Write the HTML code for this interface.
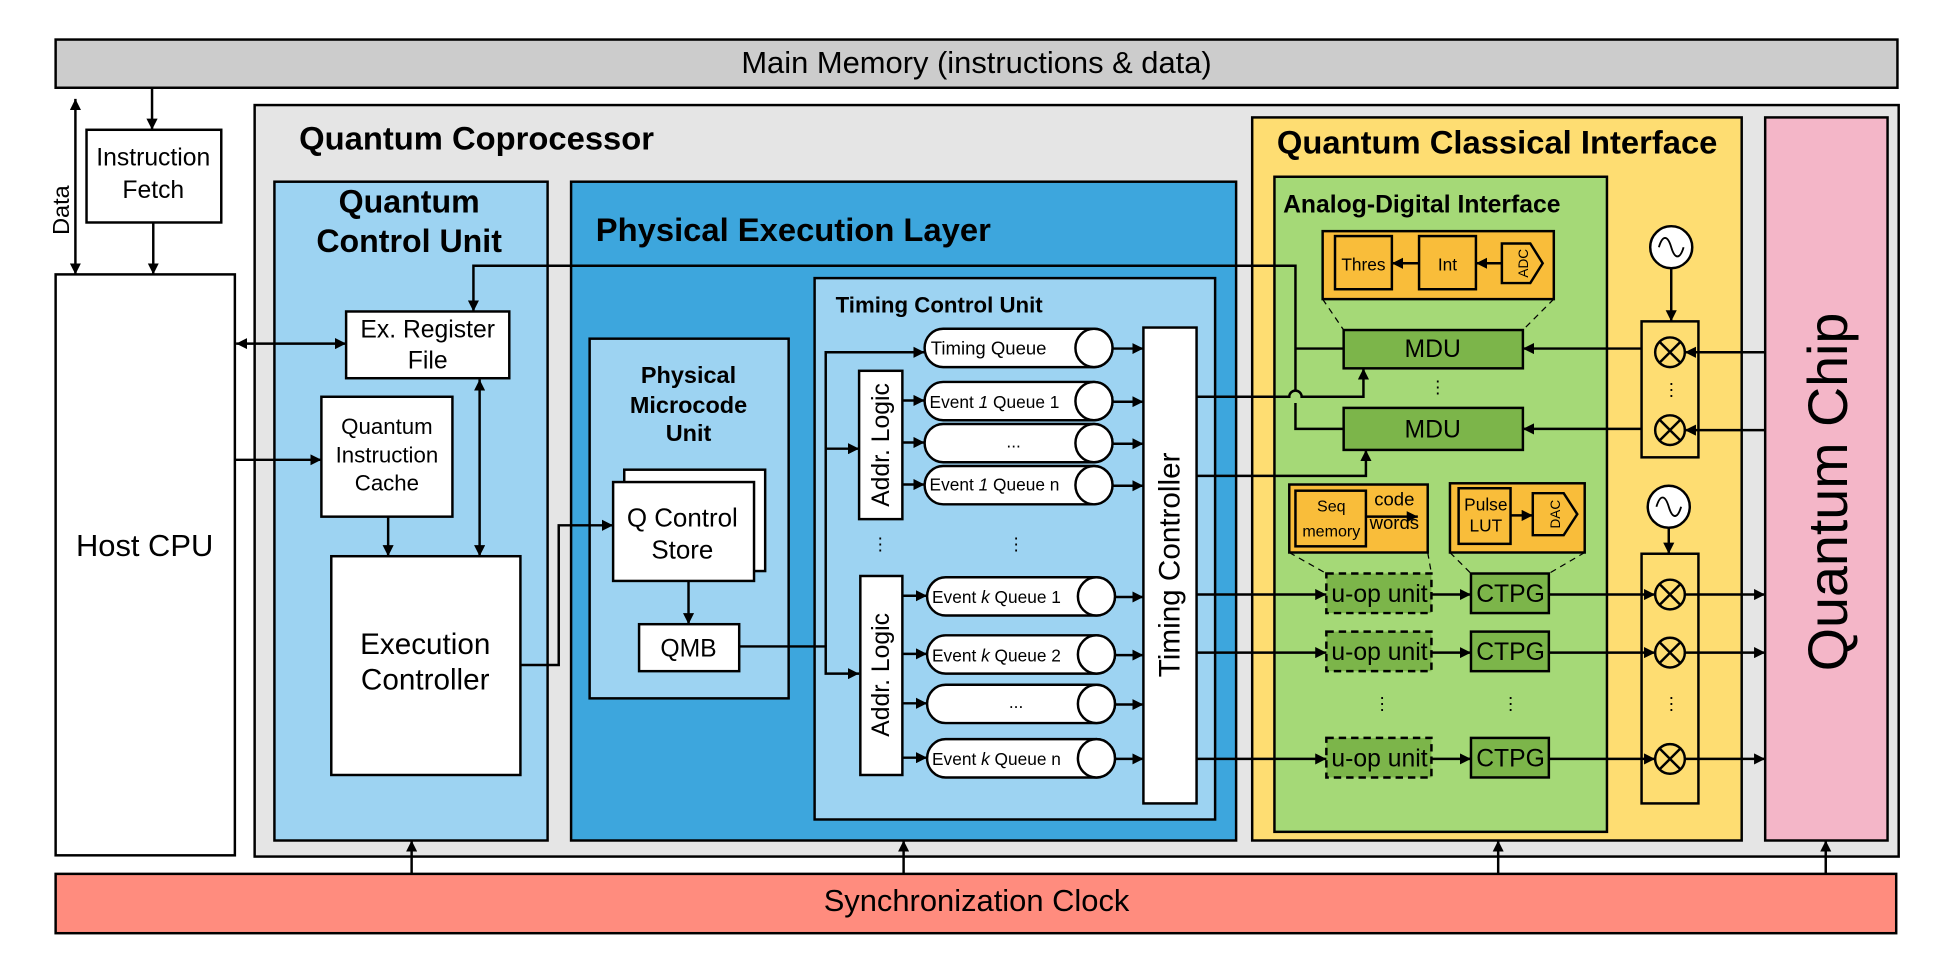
<!DOCTYPE html>
<html><head><meta charset="utf-8"><style>
html,body{margin:0;padding:0;background:#fff}
svg{display:block}
text{font-family:"Liberation Sans",Arial,sans-serif;fill:#000}
.b{font-weight:bold}
</style></head><body>
<svg width="1937" height="973" viewBox="0 0 1567 787.2" preserveAspectRatio="none" xmlns="http://www.w3.org/2000/svg">
<defs>
<marker id="a" viewBox="0 0 10 10" refX="10" refY="5" markerWidth="9" markerHeight="9" markerUnits="userSpaceOnUse" orient="auto-start-reverse"><path d="M0,0 L10,5 L0,10 z" fill="#000"/></marker>
</defs>
<g stroke="#000" stroke-width="2">
<rect x="45" y="32" width="1490" height="39" fill="#cccccc"/>
<rect x="206" y="85" width="1330" height="608" fill="#e5e5e5"/>
<rect x="70" y="105" width="109" height="75" fill="#fff"/>
<rect x="45" y="222" width="145" height="470" fill="#fff"/>
<rect x="222" y="147" width="221" height="533" fill="#9dd3f2"/>
<rect x="280" y="252" width="132" height="54" fill="#fff"/>
<rect x="260" y="321" width="106" height="97" fill="#fff"/>
<rect x="268" y="450" width="153" height="177" fill="#fff"/>
<rect x="462" y="147" width="538" height="533" fill="#3da6dd"/>
<rect x="477" y="274" width="161" height="291" fill="#9dd3f2"/>
<rect x="505" y="380" width="114" height="82" fill="#fff"/>
<rect x="496" y="390" width="114" height="80" fill="#fff"/>
<rect x="517" y="505" width="81" height="38" fill="#fff"/>
<rect x="659" y="225" width="324" height="438" fill="#9dd3f2"/>
<rect x="695" y="300" width="35" height="120" fill="#fff"/>
<rect x="696" y="466" width="34" height="161" fill="#fff"/>
<rect x="925" y="265" width="43" height="385" fill="#fff"/>
<rect x="1013" y="95" width="396" height="585" fill="#fedd72"/>
<rect x="1031" y="143" width="269" height="530" fill="#a5d977"/>
<rect x="1428" y="95" width="99" height="585" fill="#f4b6c8"/>
<rect x="1070" y="187" width="187" height="55" fill="#f9bd3a"/>
<rect x="1080" y="191" width="46" height="43" fill="#f9bd3a"/>
<rect x="1148" y="191" width="46" height="43" fill="#f9bd3a"/>
<path d="M1215,197 H1238 L1248,213 L1238,229 H1215 Z" fill="#f9bd3a"/>
<rect x="1087" y="267" width="145" height="31" fill="#7cb54a"/>
<rect x="1087" y="330" width="145" height="34" fill="#7cb54a"/>
<rect x="1043" y="392" width="112" height="55" fill="#f9bd3a"/>
<rect x="1048" y="397" width="57" height="45" fill="#f9bd3a"/>
<rect x="1173" y="391" width="109" height="56" fill="#f9bd3a"/>
<rect x="1180" y="395" width="42" height="45" fill="#f9bd3a"/>
<path d="M1240,399 H1265 L1276,416 L1265,433 H1240 Z" fill="#f9bd3a"/>
<g stroke-dasharray="6,4" fill="#7cb54a">
<rect x="1073" y="464" width="85" height="32"/>
<rect x="1073" y="511" width="85" height="32"/>
<rect x="1073" y="597" width="85" height="32"/>
</g>
<g fill="#7cb54a">
<rect x="1190" y="464" width="63" height="32"/>
<rect x="1190" y="511" width="63" height="32"/>
<rect x="1190" y="597" width="63" height="32"/>
</g>
<g stroke-width="1" stroke-dasharray="5,4" fill="none">
<path d="M1070,242 L1087,267 M1257,242 L1232,267"/>
<path d="M1043,447 L1073,464 M1155,447 L1158,464 M1173,447 L1190,464 M1282,447 L1253,464"/>
</g>
<rect x="1328" y="260" width="46" height="110" fill="#fedd72"/>
<rect x="1328" y="448" width="46" height="202" fill="#fedd72"/>
<rect x="45" y="707" width="1489" height="48" fill="#ff8c7e"/>
</g>

<g stroke="#000" stroke-width="2" fill="#fff">
<g id="q"><path d="M763,266 H885 A15,15.5 0 0 1 885,297 H763 A15,15.5 0 0 1 763,266 Z"/><ellipse cx="885" cy="281.5" rx="15" ry="15.5"/></g>
<use href="#q" y="43"/><use href="#q" y="77"/><use href="#q" y="111"/>
<use href="#q" transform="translate(2,201)"/><use href="#q" transform="translate(2,248)"/><use href="#q" transform="translate(2,288)"/><use href="#q" transform="translate(2,332)"/>
</g>

<g stroke="#000" stroke-width="2" fill="#fff">
<circle cx="1352" cy="200" r="17"/><circle cx="1350" cy="410" r="17"/>
</g>
<g stroke="#000" stroke-width="1.5" fill="none">
<path d="M1342,200 C1345,190 1349,190 1352,200 S1359,210 1362,200"/>
<path d="M1340,410 C1343,400 1347,400 1350,410 S1357,420 1360,410"/>
</g>
<g stroke="#000" stroke-width="2" fill="none">
<g id="m"><circle cx="1351" cy="285" r="12"/><path d="M1342.5,276.5 L1359.5,293.5 M1359.5,276.5 L1342.5,293.5"/></g>
<use href="#m" y="63"/><use href="#m" y="196"/><use href="#m" y="243"/><use href="#m" y="329"/>
</g>

<g stroke="#000" stroke-width="2" fill="none" marker-end="url(#a)">
<path d="M61,80 V222" marker-start="url(#a)"/>
<path d="M123,71 V105"/>
<path d="M124,180 V222"/>
<path d="M191,278 H280" marker-start="url(#a)"/>
<path d="M190,372 H260"/>
<path d="M314,418 V450"/>
<path d="M388,307 V450" marker-start="url(#a)"/>
<path d="M1048,282 V215 H383 V252" marker-end="url(#a)"/>
<path d="M421,538 H452 V425 H496"/>
<path d="M557,470 V505"/>
<path d="M598,523 H668 V545 H695"/>
<path d="M668,523 V363 H695"/>
<path d="M668,363 V285 H748"/>
<path d="M730,324 H748"/><path d="M730,358 H748"/><path d="M730,392 H748"/>
<path d="M730,482 H750"/><path d="M730,529 H750"/><path d="M730,569 H750"/><path d="M730,613 H750"/>
<path d="M900,282 H925"/><path d="M900,325 H925"/><path d="M900,359 H925"/><path d="M900,393 H925"/>
<path d="M902,483 H925"/><path d="M902,530 H925"/><path d="M902,570 H925"/><path d="M902,614 H925"/>
<path d="M968,321 H1043 A5,5 0 0 1 1053,321 H1103 V298"/>
<path d="M968,385 H1105 V364"/>
<path d="M968,481 H1073"/><path d="M968,528 H1073"/><path d="M968,614 H1073"/>
<path d="M1158,481 H1190"/><path d="M1158,528 H1190"/><path d="M1158,614 H1190"/>
<path d="M1253,481 H1339"/><path d="M1253,528 H1339"/><path d="M1253,614 H1339"/>
<path d="M1363,481 H1428"/><path d="M1363,528 H1428"/><path d="M1363,614 H1428"/>
<path d="M1428,285 H1363"/><path d="M1428,348 H1363"/>
<path d="M1328,282 H1232"/><path d="M1328,347 H1232"/>
<path d="M1352,217 V260"/><path d="M1350,427 V448"/>
<path d="M1148,213 H1126"/><path d="M1215,213 H1194"/>
<path d="M1222,417 H1240"/>
<path d="M1105,418 H1147"/>
<path d="M333,707 V680"/><path d="M731,707 V680"/><path d="M1212,707 V680"/><path d="M1477,707 V680"/>
</g>
<g stroke="#000" stroke-width="2" fill="none">
<path d="M1048,282 V316 M1048,326 V347 H1087 M1048,282 H1087"/>
</g>

<g text-anchor="middle">
<text x="790" y="59" font-size="25">Main Memory (instructions &amp; data)</text>
<text x="124" y="134" font-size="20">Instruction</text><text x="124" y="160" font-size="20">Fetch</text>
<text x="117" y="450" font-size="25">Host CPU</text>
<text x="331" y="172" font-size="26" class="b">Quantum</text>
<text x="331" y="204" font-size="26" class="b">Control Unit</text>
<text x="346" y="273" font-size="20">Ex. Register</text><text x="346" y="298" font-size="20">File</text>
<text x="313" y="351" font-size="18">Quantum</text><text x="313" y="374" font-size="18">Instruction</text><text x="313" y="397" font-size="18">Cache</text>
<text x="344" y="529" font-size="24">Execution</text><text x="344" y="558" font-size="24">Controller</text>
<text x="557" y="310" font-size="19" class="b">Physical</text><text x="557" y="334" font-size="19" class="b">Microcode</text><text x="557" y="357" font-size="19" class="b">Unit</text>
<text x="552" y="426" font-size="21">Q Control</text><text x="552" y="452" font-size="21">Store</text>
<text x="557" y="531" font-size="20">QMB</text>
<text x="820" y="362" font-size="14">...</text>
<text x="822" y="573" font-size="14">...</text>
<text x="1159" y="289" font-size="20">MDU</text>
<text x="1159" y="354" font-size="20">MDU</text>
<text x="1103" y="219" font-size="14">Thres</text>
<text x="1171" y="219" font-size="14">Int</text>
<text x="1077" y="414" font-size="13">Seq</text><text x="1077" y="434" font-size="13">memory</text>
<text x="1128" y="409" font-size="15">code</text><text x="1128" y="428" font-size="15">words</text>
<text x="1202" y="413" font-size="14">Pulse</text><text x="1202" y="430" font-size="14">LUT</text>
<text x="1116" y="487" font-size="20">u-op unit</text><text x="1116" y="534" font-size="20">u-op unit</text><text x="1116" y="620" font-size="20">u-op unit</text>
<text x="1222" y="487" font-size="20">CTPG</text><text x="1222" y="534" font-size="20">CTPG</text><text x="1222" y="620" font-size="20">CTPG</text>
<text x="790" y="737" font-size="25">Synchronization Clock</text>
</g>
<text x="242" y="121" font-size="26.5" class="b">Quantum Coprocessor</text>
<text x="482" y="195" font-size="26.5" class="b">Physical Execution Layer</text>
<text x="676" y="253" font-size="18" class="b">Timing Control Unit</text>
<text x="1033" y="124" font-size="26.5" class="b">Quantum Classical Interface</text>
<text x="1038" y="172" font-size="20" class="b">Analog-Digital Interface</text>
<text x="753" y="287" font-size="15">Timing  Queue</text>
<text x="752" y="330" font-size="14">Event <tspan font-style="italic">1</tspan> Queue 1</text>
<text x="752" y="397" font-size="14">Event <tspan font-style="italic">1</tspan> Queue n</text>
<text x="754" y="488" font-size="14">Event <tspan font-style="italic">k</tspan> Queue 1</text>
<text x="754" y="535" font-size="14">Event <tspan font-style="italic">k</tspan> Queue 2</text>
<text x="754" y="619" font-size="14">Event <tspan font-style="italic">k</tspan> Queue n</text>
<g font-size="20" text-anchor="middle">
<text transform="translate(56,170) rotate(-90)" font-size="19">Data</text>
<text transform="translate(719,360) rotate(-90)">Addr. Logic</text>
<text transform="translate(719,546) rotate(-90)">Addr. Logic</text>
<text transform="translate(954,457) rotate(-90)" font-size="24">Timing Controller</text>
<text transform="translate(1494,398) rotate(-90)" font-size="45">Quantum Chip</text>
<text transform="translate(1236,213) rotate(-90)" font-size="11">ADC</text>
<text transform="translate(1262,416) rotate(-90)" font-size="11">DAC</text>
</g>
<g font-size="14" text-anchor="middle">
<text x="712" y="445">⋮</text><text x="822" y="445">⋮</text>
<text x="1163" y="318">⋮</text><text x="1352" y="320">⋮</text>
<text x="1118" y="574">⋮</text><text x="1222" y="574">⋮</text><text x="1352" y="574">⋮</text>
</g>
</svg>
</body></html>
